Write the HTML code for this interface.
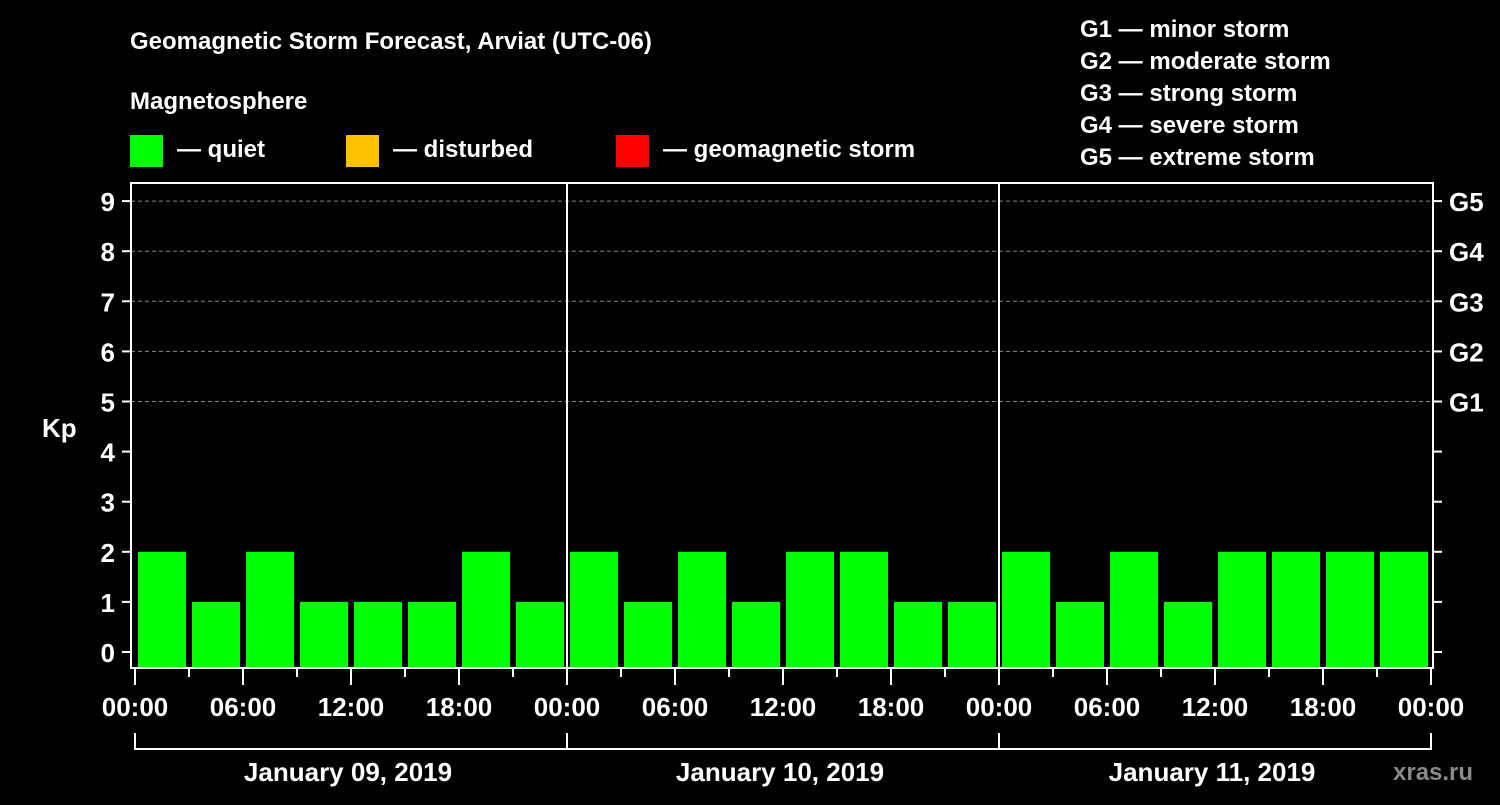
<!DOCTYPE html>
<html><head><meta charset="utf-8"><style>
html,body{margin:0;padding:0;background:#000;}
svg text{font-family:"Liberation Sans",Arial,sans-serif;font-weight:bold;fill:#fff;}
</style></head><body>
<svg id="chart" width="1500" height="800" viewBox="0 0 1500 800" xmlns="http://www.w3.org/2000/svg">
<rect width="1500" height="800" fill="#000"/>
<text x="130" y="49" font-size="24">Geomagnetic Storm Forecast, Arviat (UTC-06)</text>
<text x="130" y="109" font-size="24">Magnetosphere</text>
<g><rect x="130" y="135" width="33" height="32" fill="#00ff00"/><text x="177" y="157" font-size="24">— quiet</text></g>
<g><rect x="346" y="135" width="33" height="32" fill="#ffc000"/><text x="393" y="157" font-size="24">— disturbed</text></g>
<g><rect x="616" y="135" width="33" height="32" fill="#ff0000"/><text x="663" y="157" font-size="24">— geomagnetic storm</text></g>
<g font-size="24">
<text x="1080" y="37">G1 — minor storm</text>
<text x="1080" y="69">G2 — moderate storm</text>
<text x="1080" y="101">G3 — strong storm</text>
<text x="1080" y="133">G4 — severe storm</text>
<text x="1080" y="165">G5 — extreme storm</text>
</g>
<g id="grid"></g>
<g id="bars"></g>
<g id="axes"></g>
<text x="42" y="437" font-size="26">Kp</text>
<text x="1393" y="780" font-size="24" fill="#888" style="fill:#8a8a8a">xras.ru</text>
</svg>
<script>
const days = ["January 09, 2019","January 10, 2019","January 11, 2019"];
const kpValues = [2,1,2,1,1,1,2,1, 2,1,2,1,2,2,1,1, 2,1,2,1,2,2,2,2];
const yTicks = [0,1,2,3,4,5,6,7,8,9];
const gLabels = ["G1","G2","G3","G4","G5"];
const hourLabels = ["00:00","06:00","12:00","18:00"];

const NS="http://www.w3.org/2000/svg";
const X0=135, DAYW=432, SLOT=54;
const yScale = k => 652 - 50.1*k;
const xScale = i => X0 + SLOT*i;
function mk(tag, attrs, parent){const e=document.createElementNS(NS,tag);for(const k in attrs)e.setAttribute(k,attrs[k]);parent.appendChild(e);return e;}
const grid=document.getElementById('grid'), bars=document.getElementById('bars'), axes=document.getElementById('axes');

// grid lines for G levels
for(let i=0;i<gLabels.length;i++){
  const y=yScale(5+i);
  const l=mk('line',{x1:131,x2:1433,y1:y,y2:y,stroke:'#888','stroke-dasharray':'4,3','stroke-width':1},grid);
  
  
  const t=mk('text',{x:1449,y:y+10,'font-size':26},axes);
  t.textContent=gLabels[i];
  
  
}
// bars
kpValues.forEach((v,i)=>{
  const color = v>=5?'#ff0000':(v>=4?'#ffc000':'#00ff00');
  const r=mk('rect',{x:xScale(i)+3,width:SLOT-6,y:yScale(v),height:667-yScale(v),fill:color},bars);
  
  
});
// frame
const fr=mk('rect',{x:131,y:183,width:1302,height:485,fill:'none',stroke:'#fff','stroke-width':2},axes);


// day separators
for(let d=1;d<days.length;d++){
  const x=X0+DAYW*d;
  const l=mk('line',{x1:x,x2:x,y1:183,y2:668,stroke:'#fff','stroke-width':2},axes);
  
  
}
// y ticks
yTicks.forEach(k=>{
  const y=yScale(k);
  const a=mk('line',{x1:122,x2:131,y1:y,y2:y,stroke:'#fff','stroke-width':2},axes);
  
  
  const b=mk('line',{x1:1433,x2:1442,y1:y,y2:y,stroke:'#fff','stroke-width':2},axes);
  
  
  const t=mk('text',{x:115,y:y+10,'font-size':26,'text-anchor':'end'},axes);
  t.textContent=k;
  
  
});
// x ticks
const nSlots=days.length*8;
for(let i=0;i<=nSlots;i++){
  const x=xScale(i), major=i%2===0;
  const l=mk('line',{x1:x,x2:x,y1:668,y2:major?685:677,stroke:'#fff','stroke-width':2},axes);
  
  
  if(major){
    const t=mk('text',{x:x,y:716,'font-size':26,'text-anchor':'middle'},axes);
    t.textContent=hourLabels[(i/2)%4];
    
    
  }
}
// day brackets
const bl=mk('line',{x1:X0,x2:X0+DAYW*days.length,y1:749,y2:749,stroke:'#fff','stroke-width':2},axes);


for(let d=0;d<=days.length;d++){
  const x=X0+DAYW*d;
  const v=mk('line',{x1:x,x2:x,y1:733,y2:750,stroke:'#fff','stroke-width':2},axes);
  
  
}
days.forEach((d,i)=>{
  const t=mk('text',{x:X0+DAYW*i+DAYW/2-3,y:781,'font-size':26,'text-anchor':'middle'},axes);
  t.textContent=d;
  
  
});
</script>
</body></html>
